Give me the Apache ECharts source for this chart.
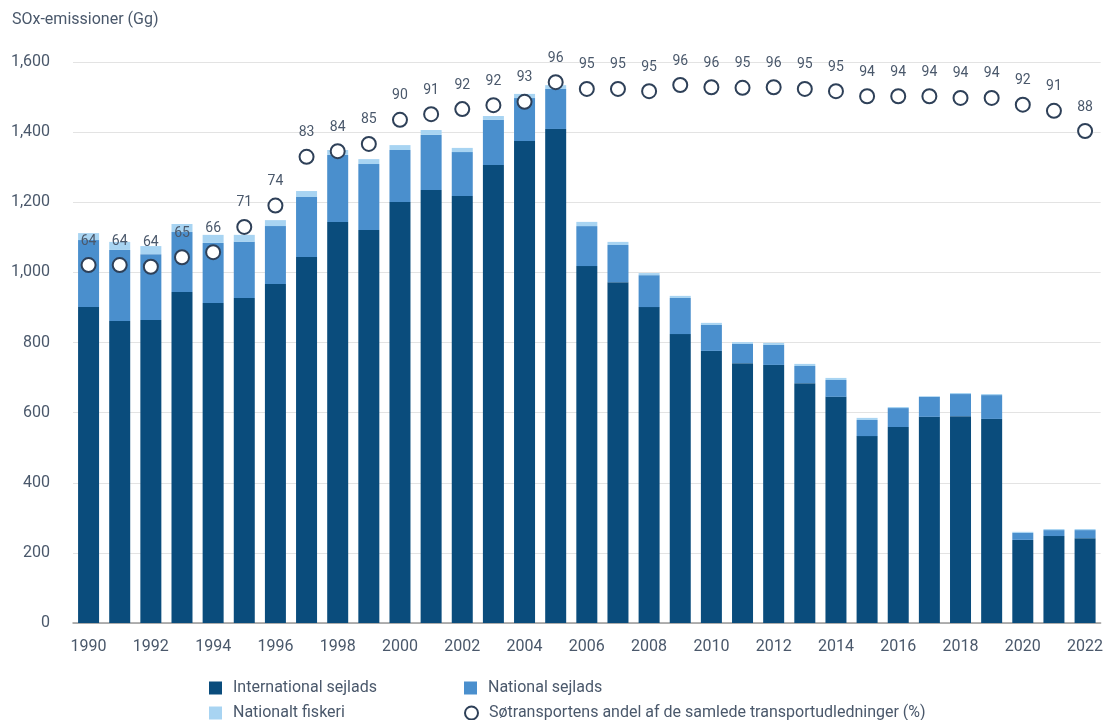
<!DOCTYPE html>
<html>
<head>
<meta charset="utf-8">
<script src="https://cdn.jsdelivr.net/npm/echarts@6/dist/echarts.min.js"></script>
<style>
html,body{margin:0;padding:0;background:#fff;}
#c{width:1106px;height:720px;}
</style>
</head>
<body>
<div id="c"></div>
<script>
const years = ['1990','1991','1992','1993','1994','1995','1996','1997','1998','1999','2000','2001','2002','2003','2004','2005','2006','2007','2008','2009','2010','2011','2012','2013','2014','2015','2016','2017','2018','2019','2020','2021','2022'];
const international = [901,861,864,944,913,927,967,1044,1144,1121,1201,1235,1218,1306,1375,1409,1018,972,901,824,776,741,736,684,645,533,559,588,590,582,237,248,242];
const national = [191,203,188,171,171,160,165,171,191,188,148,157,125,129,122,114,114,106,91,103,74,55,57,49,48,46,54,57,63,68,20,17,23];
const fiskeri = [20,23,23,23,23,20,17,17,14,14,14,14,12,11,12,11,12,9,6,6,6,5,6,6,6,6,3,2,3,3,3,3,3];
const andel = [63.8,63.8,63.5,65.2,66.1,70.6,74.4,83.1,84.1,85.4,89.7,90.7,91.6,92.3,92.9,96.4,95.2,95.2,94.8,95.9,95.5,95.4,95.5,95.2,94.8,93.9,93.9,93.9,93.6,93.6,92.4,91.3,87.7];

const cDark = '#0a4c7c', cMid = '#4a8fcd', cLight = '#a8d4f2';
const txt = '#4a586b';
const chart = echarts.init(document.getElementById('c'));
const legendBase = {orient:'horizontal', itemWidth:13, itemHeight:13, itemGap:10, padding:0,
  textStyle:{color:txt, fontSize:16, fontFamily:'Roboto', padding:[0,0,0,6]}};
chart.setOption({
  animation:false,
  textStyle:{fontFamily:'Roboto'},
  title:{text:'SOx-emissioner (Gg)', left:12, top:12, padding:0,
    textStyle:{color:txt, fontSize:16, fontWeight:'normal', fontFamily:'Roboto'}},
  grid:{left:73, right:1, top:62, bottom:97},
  legend:[
    Object.assign({}, legendBase, {data:[{name:'International sejlads', icon:'rect'}], left:209, top:680}),
    Object.assign({}, legendBase, {data:[{name:'National sejlads', icon:'rect'}], left:464, top:680}),
    Object.assign({}, legendBase, {data:[{name:'Nationalt fiskeri', icon:'rect'}], left:209, top:705}),
    Object.assign({}, legendBase, {data:[{name:'Søtransportens andel af de samlede transportudledninger (%)', icon:'circle'}], left:464, top:705})
  ],
  xAxis:{type:'category', data:years,
    axisLine:{lineStyle:{color:'#999', width:1.5}}, axisTick:{show:false},
    axisLabel:{interval:1, color:txt, fontSize:16, margin:16}},
  yAxis:[
    {type:'value', min:0, max:1600, interval:200,
      axisLabel:{color:txt, fontSize:16, margin:23, formatter:v=>v.toLocaleString('en-US')},
      splitLine:{lineStyle:{color:'#e3e3e3', width:1.2}}},
    {type:'value', min:0, max:100, show:false, splitLine:{show:false}}
  ],
  series:[
    {name:'International sejlads', type:'bar', stack:'s', data:international, barWidth:21, itemStyle:{color:cDark}},
    {name:'National sejlads', type:'bar', stack:'s', data:national, barWidth:21, itemStyle:{color:cMid}},
    {name:'Nationalt fiskeri', type:'bar', stack:'s', data:fiskeri, barWidth:21, itemStyle:{color:cLight}},
    {name:'Søtransportens andel af de samlede transportudledninger (%)', type:'scatter', yAxisIndex:1, data:andel,
      symbol:'circle', symbolSize:14, z:5,
      itemStyle:{color:'#fff', borderColor:'#2e4058', borderWidth:2, opacity:1},
      label:{show:true, position:'top', distance:9, color:txt, fontSize:14, formatter:p=>Math.round(p.value)}}
  ]
});
</script>
</body>
</html>
